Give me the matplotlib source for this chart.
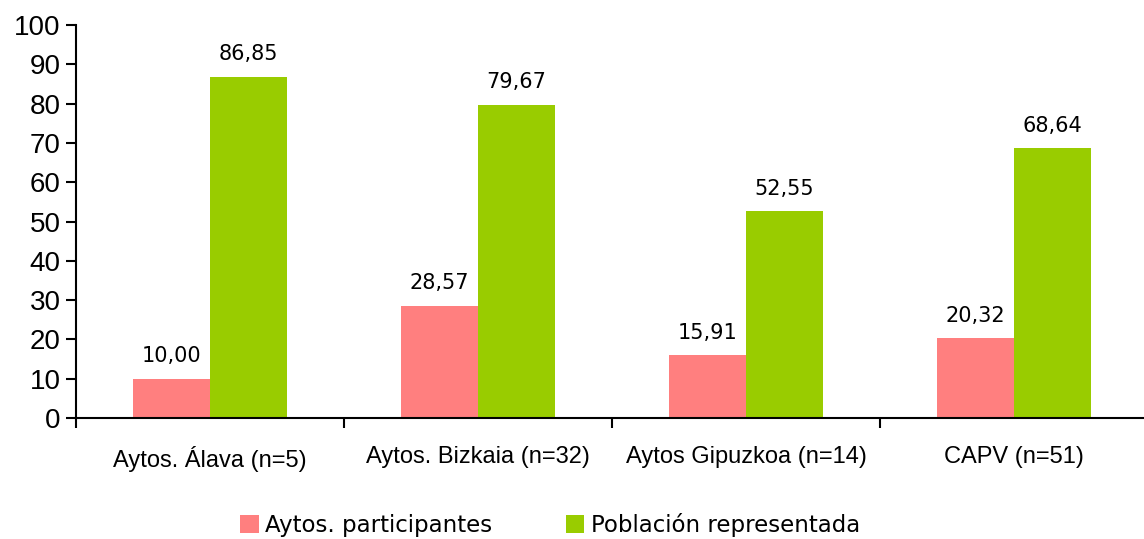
import matplotlib
matplotlib.use("Agg")
import matplotlib.pyplot as plt
import numpy as np
from matplotlib.patches import Patch

categories = ["Aytos. Álava (n=5)", "Aytos. Bizkaia (n=32)", "Aytos Gipuzkoa (n=14)", "CAPV (n=51)"]
participantes = [10.00, 28.57, 15.91, 20.32]
poblacion = [86.85, 79.67, 52.55, 68.64]
series_names = ["Aytos. participantes", "Población representada"]
yticks = [0, 10, 20, 30, 40, 50, 60, 70, 80, 90, 100]

c_pink = "#FF7F7F"
c_green = "#99CC00"

fig = plt.figure(figsize=(11.44, 5.39), dpi=100)
ax = fig.add_axes([76/1144, 1-418/539, (1148-76)/1144, (418-25)/539])

x = np.arange(len(categories))
w = 0.287
b1 = ax.bar(x - w/2, participantes, w, color=c_pink)
b2 = ax.bar(x + w/2, poblacion, w, color=c_green)

def fmt(v):
    return f"{v:.2f}".replace(".", ",")

for bars, vals in ((b1, participantes), (b2, poblacion)):
    for r, v in zip(bars, vals):
        ax.annotate(fmt(v), (r.get_x() + r.get_width()/2, v), xytext=(0, 9),
                    textcoords="offset points", ha="center", va="bottom",
                    fontsize=15, family="DejaVu Sans", color="black")

ax.set_xlim(-0.5, 3.5)
ax.set_ylim(0, 100)
ax.set_yticks(yticks)
ax.set_yticklabels([str(t) for t in yticks], fontsize=20, family="Liberation Sans")
ax.set_xticks(x)
ax.set_xticklabels(categories, fontsize=17, family="Liberation Sans")
ax.set_xticks(np.arange(-0.5, 3.6, 1.0), minor=True)
ax.tick_params(axis="x", which="major", length=0, pad=20)
ax.tick_params(axis="x", which="minor", length=7, width=1.5, direction="out")
ax.tick_params(axis="y", length=7, width=1.5, direction="out", pad=4)

for s in ("top", "right"):
    ax.spines[s].set_visible(False)
for s in ("left", "bottom"):
    ax.spines[s].set_linewidth(1.5)
    ax.spines[s].set_color("black")

handles = [Patch(facecolor=c_pink, label=series_names[0]),
           Patch(facecolor=c_green, label=series_names[1])]
fig.legend(handles=handles, loc="center", bbox_to_anchor=(550/1144, 1-525/539),
           ncol=2, frameon=False, prop={"family": "DejaVu Sans", "size": 16.5},
           handlelength=0.82, handleheight=0.82, handletextpad=0.27, columnspacing=3.2)

fig.savefig("out.png", dpi=100)
